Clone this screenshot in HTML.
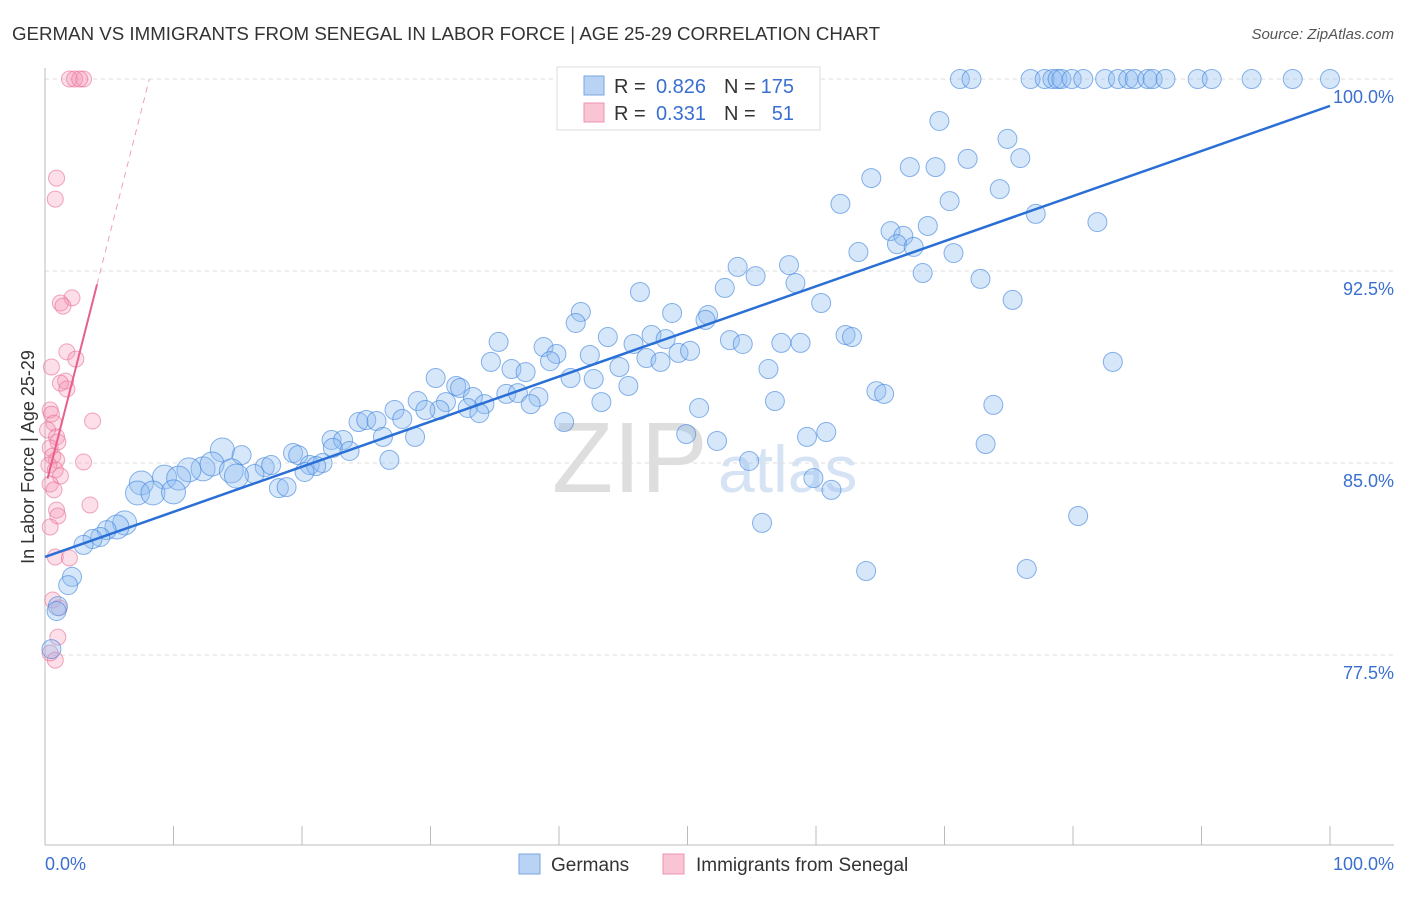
<!DOCTYPE html>
<html><head><meta charset="utf-8">
<style>
body{margin:0;background:#fff;font-family:"Liberation Sans",sans-serif;}
svg text{font-family:"Liberation Sans",sans-serif;}
</style></head>
<body>
<svg id="chart" width="1406" height="892" xmlns="http://www.w3.org/2000/svg">
<text x="12" y="40" font-size="18" fill="#333" textLength="868" lengthAdjust="spacingAndGlyphs">GERMAN VS IMMIGRANTS FROM SENEGAL IN LABOR FORCE | AGE 25-29 CORRELATION CHART</text>
<text x="1394" y="39" font-size="15" fill="#555" text-anchor="end" font-style="italic">Source: ZipAtlas.com</text>
<text x="34" y="457" font-size="18" fill="#333" text-anchor="middle" transform="rotate(-90 34 457)">In Labor Force | Age 25-29</text>
<text x="552" y="492" font-size="100" fill="#dedede" font-family="Liberation Serif">ZIP</text>
<text x="718" y="492" font-size="66" fill="#d5e3f5">atlas</text>
<g id="grid"></g><g id="axes"></g><g id="pink"></g><g id="blue"></g><g id="lines"></g>
<g>
<rect x="557" y="67" width="263" height="63" fill="#fff" stroke="#ddd"/>
<rect x="584" y="76" width="20" height="19" fill="#b8d3f3" stroke="#7aa6e0"/>
<rect x="584" y="103" width="20" height="19" fill="#f9c5d4" stroke="#ef93ae"/>
<text x="614" y="93" font-size="20" fill="#333">R =</text>
<text x="706" y="93" font-size="20" fill="#3a6fd0" text-anchor="end">0.826</text>
<text x="724" y="93" font-size="20" fill="#333">N =</text>
<text x="794" y="93" font-size="20" fill="#3a6fd0" text-anchor="end">175</text>
<text x="614" y="120" font-size="20" fill="#333">R =</text>
<text x="706" y="120" font-size="20" fill="#3a6fd0" text-anchor="end">0.331</text>
<text x="724" y="120" font-size="20" fill="#333">N =</text>
<text x="794" y="120" font-size="20" fill="#3a6fd0" text-anchor="end">51</text>
</g>
<g>
<rect x="519" y="854" width="21" height="20" fill="#b8d3f3" stroke="#7aa6e0"/>
<text x="551" y="871" font-size="19" fill="#333">Germans</text>
<rect x="663" y="854" width="21" height="20" fill="#f9c5d4" stroke="#ef93ae"/>
<text x="696" y="871" font-size="19" fill="#333">Immigrants from Senegal</text>
</g>
</svg>
<script>
const yTicks=[77.5,85.0,92.5,100.0];
const yTickLabels=["77.5%","85.0%","92.5%","100.0%"];
const blueX=[71.2,72.1,76.7,77.8,78.4,78.8,79.1,79.9,80.8,82.5,83.5,84.3,84.8,85.8,86.2,87.2,89.7,90.8,93.9,97.1,100,
69.6,74.9,75.9,71.8,67.3,69.3,64.3,74.3,61.9,70.4,77.1,81.9,65.8,66.8,66.3,67.6,68.7,63.3,70.7,53.9,57.9,55.3,68.3,72.8,58.4,52.9,46.3,75.3,60.4,41.7,51.6,51.4,48.8,41.3,43.8,47.2,48.3,35.3,38.8,39.8,42.4,45.8,53.3,54.3,57.3,58.8,62.3,62.8,46.8,47.9,49.3,50.2,39.3,34.7,36.3,37.4,44.7,40.9,42.7,56.3,83.1,30.4,32.0,32.3,45.4,64.7,65.3,29.0,31.2,33.3,35.9,36.8,38.4,34.2,37.8,43.3,56.8,27.2,30.7,29.6,32.9,33.8,50.9,73.8,27.8,24.4,25.0,25.8,40.4,22.3,23.2,26.3,28.8,49.9,52.3,59.3,60.8,73.2,22.4,23.7,13.8,15.3,19.3,19.7,26.8,20.6,21.6,21.1,54.8,17.1,17.6,12.3,11.2,13.0,14.5,16.3,20.2,14.9,9.3,10.4,59.8,7.5,61.2,18.2,18.8,7.2,8.4,10.0,80.4,55.8,6.2,5.6,4.8,4.3,3.7,3.0,63.9,76.4,2.1,1.8,1.0,0.9,0.5];
const blueY=[100,100,100,100,100,100,100,100,100,100,100,100,100,100,100,100,100,100,100,100,100,
98.36,97.66,96.91,96.88,96.56,96.56,96.13,95.70,95.12,95.23,94.73,94.41,94.06,93.87,93.55,93.44,94.26,93.24,93.20,92.66,92.73,92.30,92.42,92.19,92.03,91.84,91.68,91.37,91.25,90.90,90.78,90.59,90.86,90.47,89.92,90.00,89.84,89.73,89.53,89.26,89.22,89.65,89.80,89.65,89.69,89.69,90.00,89.92,89.10,88.95,89.30,89.38,88.98,88.95,88.67,88.55,88.75,88.32,88.28,88.67,88.95,88.32,88.01,87.93,88.01,87.81,87.70,87.42,87.38,87.58,87.70,87.73,87.58,87.30,87.30,87.38,87.42,87.07,87.07,87.07,87.15,86.95,87.15,87.27,86.72,86.60,86.68,86.64,86.60,85.90,85.90,86.02,86.02,86.13,85.86,86.02,86.21,85.74,85.59,85.47,85.51,85.31,85.39,85.31,85.12,84.92,85.00,84.88,85.08,84.84,84.92,84.77,84.73,84.96,84.69,84.57,84.65,84.49,84.45,84.41,84.41,84.22,83.95,84.02,84.06,83.83,83.83,83.87,82.93,82.66,82.66,82.50,82.38,82.11,82.03,81.80,80.78,80.86,80.55,80.23,79.41,79.22,77.73];
const pinkX=[1.9,2.3,3.0,2.7,0.9,0.8,2.1,1.2,1.4,1.7,2.4,0.5,1.6,1.2,1.7,0.4,0.5,0.7,3.7,0.2,0.9,1.0,0.4,0.6,0.9,3.0,0.3,0.8,1.2,0.4,0.7,3.5,0.9,1.0,0.4,0.8,1.9,0.6,1.1,1.0,0.4,0.8];
const pinkY=[100,100,100,100,96.13,95.31,91.45,91.25,91.13,89.34,89.06,88.75,88.20,88.12,87.89,87.07,86.91,86.56,86.64,86.29,86.02,85.82,85.59,85.27,85.12,85.04,84.92,84.73,84.49,84.18,83.95,83.36,83.16,82.93,82.50,81.33,81.29,79.65,79.34,78.20,77.58,77.30];
const blueTrend=[81.33,98.95];
const pinkTrend=[84.0,1.97];

const X=v=>45+v*12.85, Y=v=>79+(100-v)*25.6;
const NS="http://www.w3.org/2000/svg";
function mk(tag,attrs,parent){const e=document.createElementNS(NS,tag);for(const k in attrs)e.setAttribute(k,attrs[k]);document.getElementById(parent).appendChild(e);return e;}
yTicks.forEach((t,i)=>{
  const g=mk('line',{x1:45,x2:1394,y1:Y(t),y2:Y(t),stroke:'#ddd','stroke-dasharray':'4,4'},'grid');
  
  
  const l=mk('text',{x:1394,y:Y(t)+24,'font-size':18,fill:'#3a6fd0','text-anchor':'end'},'grid');
  l.textContent=yTickLabels[i];
  
  
});
let a=mk('line',{x1:45,x2:45,y1:68,y2:845,stroke:'#bbb'},'axes');


a=mk('line',{x1:45,x2:1394,y1:845,y2:845,stroke:'#bbb'},'axes');


for(let i=1;i<=10;i++){const t=mk('line',{x1:X(i*10),x2:X(i*10),y1:826,y2:845,stroke:'#bbb'},'axes');
  
  }
let t=mk('text',{x:45,y:870,'font-size':18,fill:'#3a6fd0'},'axes');t.textContent='0.0%';


t=mk('text',{x:1394,y:870,'font-size':18,fill:'#3a6fd0','text-anchor':'end'},'axes');t.textContent='100.0%';


pinkX.forEach((x,i)=>{const c=mk('circle',{cx:X(x),cy:Y(pinkY[i]),r:8,fill:'rgba(244,150,180,0.3)',stroke:'rgba(232,110,150,0.6)','stroke-width':1},'pink');
  
  });
blueX.forEach((x,i)=>{const r=(x>5&&x<15)?12:9.5;const c=mk('circle',{cx:X(x),cy:Y(blueY[i]),r:r,fill:'rgba(140,185,240,0.35)',stroke:'rgba(60,130,220,0.6)','stroke-width':1},'blue');
  
  });
let ln=mk('line',{x1:X(0),y1:Y(blueTrend[0]),x2:X(100),y2:Y(blueTrend[1]),stroke:'#2a6fd6','stroke-width':2.5},'lines');


const pEnd=(100-pinkTrend[0])/pinkTrend[1];
ln=mk('line',{x1:X(0.2),y1:Y(pinkTrend[0]+0.2*pinkTrend[1]),x2:X(4.05),y2:Y(pinkTrend[0]+4.05*pinkTrend[1]),stroke:'#e8608a','stroke-width':2},'lines');


ln=mk('line',{x1:X(4.05),y1:Y(pinkTrend[0]+4.05*pinkTrend[1]),x2:X(pEnd),y2:Y(100),stroke:'#f0a0b8','stroke-width':1,'stroke-dasharray':'6,5'},'lines');


</script>
</body></html>
